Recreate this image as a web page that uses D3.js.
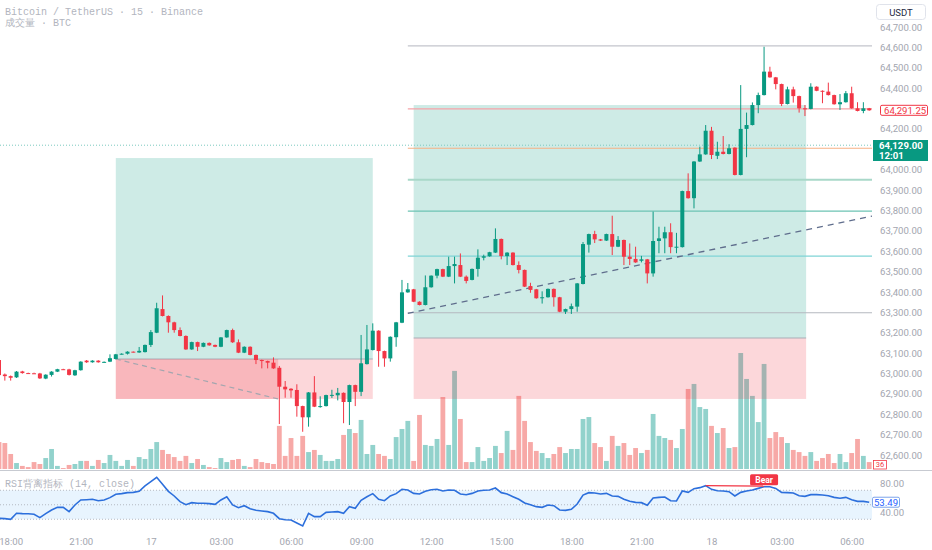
<!DOCTYPE html>
<html>
<head>
<meta charset="utf-8">
<script src="https://cdn.jsdelivr.net/npm/d3@7"></script>
<style>
  body { margin: 0; background: #fff; }
  svg text { font-family: Roboto, "Noto Sans", sans-serif; }
</style>
</head>
<body>
<div id="chart"></div>
<script>
// 15m BTCUSDT candles, 16th 17:30 -> 18th 06:45
const opens = [
  63066,62995,62987,62981,63010,63002,63001,63000,62975,62993,
  63009,63021,63020,62991,63016,63063,63055,63063,63055,63058,
  63071,63094,63097,63107,63103,63105,63140,63200,63316,63282,
  63251,63213,63184,63118,63154,63131,63150,63140,63131,63177,
  63213,63153,63102,63131,63091,63066,63061,63053,63028,62935,
  62925,62919,62840,62785,62907,62837,62840,62894,62893,62905,
  62860,62943,62910,63046,63115,63210,63110,63074,63178,63249,
  63398,63413,63352,63336,63423,63480,63512,63475,63527,63532,
  63475,63459,63513,63568,63575,63593,63660,63576,63593,63532,
  63508,63429,63413,63369,63374,63415,63374,63303,63316,63328,
  63439,63632,63684,63658,63652,63684,63622,63655,63573,63562,
  63553,63560,63491,63650,63663,63693,63620,63620,63895,63860,
  64040,64075,64191,64068,64088,64077,64108,63974,64200,64219,
  64317,64366,64481,64453,64420,64322,64394,64361,64301,64298,
  64407,64387,64383,64366,64321,64331,64375,64301,64288,64301
];
const highs = [
  63080,63000,62990,63012,63013,63004,63004,63003,62996,63011,
  63023,63023,63023,63018,63060,63066,63065,63065,63059,63094,
  63096,63099,63109,63108,63130,63142,63213,63347,63383,63285,
  63254,63226,63187,63156,63156,63152,63152,63142,63179,63215,
  63220,63167,63133,63133,63093,63068,63063,63079,63037,62963,
  62928,62947,62842,62909,62987,62888,62896,62920,62929,62907,
  62945,62945,63189,63238,63246,63212,63112,63182,63253,63459,
  63444,63415,63354,63481,63481,63514,63514,63573,63573,63589,
  63481,63515,63609,63583,63597,63712,63662,63595,63595,63550,
  63510,63445,63415,63403,63417,63417,63376,63318,63343,63444,
  63645,63686,63700,63660,63686,63774,63674,63657,63638,63622,
  63577,63562,63794,63720,63720,63737,63690,63897,63982,64042,
  64113,64219,64210,64137,64165,64125,64110,64415,64280,64330,
  64378,64603,64505,64455,64422,64407,64407,64363,64317,64424,
  64409,64389,64427,64368,64371,64386,64407,64331,64331,64303
];
const lows = [
  62988,62965,62965,62978,62999,63000,62999,62973,62972,62985,
  63007,63019,62990,62988,63014,63052,63053,63053,63054,63056,
  63069,63093,63093,63103,63101,63103,63130,63198,63280,63200,
  63200,63182,63116,63116,63110,63129,63136,63129,63129,63175,
  63150,63100,63100,63089,63046,63025,63025,63023,62752,62881,
  62881,62788,62714,62739,62835,62832,62838,62880,62868,62756,
  62747,62840,62889,63044,63113,63033,63033,63058,63131,63247,
  63396,63350,63334,63334,63421,63467,63473,63473,63442,63473,
  63442,63457,63475,63555,63573,63591,63560,63532,63530,63491,
  63424,63396,63367,63343,63372,63328,63301,63292,63292,63303,
  63437,63593,63640,63650,63650,63581,63620,63532,63532,63543,
  63545,63442,63475,63590,63590,63590,63590,63618,63858,63810,
  64038,64073,64052,64052,64075,64075,63972,63972,64061,64217,
  64277,64364,64451,64394,64312,64320,64329,64280,64263,64296,
  64385,64326,64364,64319,64293,64329,64299,64286,64277,64289
];
const closes = [
  62992,62987,62979,63009,63002,63001,63000,62976,62994,63009,
  63021,63020,62993,63016,63058,63055,63063,63055,63057,63075,
  63094,63097,63107,63105,63111,63140,63203,63320,63282,63251,
  63213,63184,63118,63154,63131,63150,63138,63131,63177,63213,
  63153,63102,63131,63091,63066,63061,63053,63025,62935,62922,
  62917,62840,62785,62907,62837,62840,62894,62895,62905,62860,
  62943,62910,63050,63118,63210,63110,63074,63180,63251,63398,
  63413,63352,63336,63423,63480,63512,63475,63527,63537,63475,
  63454,63513,63568,63575,63595,63660,63576,63593,63532,63508,
  63426,63410,63369,63374,63415,63374,63303,63316,63330,63442,
  63635,63684,63658,63652,63684,63622,63655,63573,63562,63545,
  63560,63491,63650,63663,63693,63620,63622,63895,63860,64040,
  64075,64191,64072,64088,64077,64105,63974,64200,64219,64317,
  64366,64481,64453,64420,64322,64394,64361,64301,64296,64407,
  64387,64383,64366,64321,64331,64375,64301,64288,64301,64291.25
];
// volume in BTC
const volumes = [
  140,135,78,31,16,10,36,26,57,104,16,5,21,26,42,42,16,47,31,73,
  42,16,47,16,62,52,104,140,99,78,62,42,68,31,52,21,10,5,57,36,
  47,52,16,10,52,36,31,26,224,68,161,68,172,88,99,73,42,42,52,177,
  208,187,255,78,125,78,68,52,166,208,250,42,281,125,120,156,374,125,510,260,
  36,36,114,42,57,120,83,198,99,380,250,140,94,83,57,78,114,83,104,104,
  260,270,135,114,42,172,120,135,73,109,83,99,286,172,161,151,109,208,416,442,
  322,312,224,187,213,109,114,603,468,380,244,546,161,192,166,135,99,88,68,88,
  42,57,78,31,78,36,83,156,68,36
];
// RSI (14, close)
const rsi = [
  31.3,30.8,29.9,38.2,37.7,37.5,36.8,32.2,37.7,42.8,
  46.4,46.4,40.5,49.7,56.6,57.0,57.5,55.6,56.6,59.8,
  64.4,65.3,66.7,67.1,68.5,75.9,81.8,87.8,78.2,68.5,
  62.1,54.3,50.1,52.9,52.0,52.0,51.5,50.6,56.6,61.1,
  49.7,46.0,48.7,44.6,42.3,41.4,40.5,38.2,30.8,29.4,
  29.0,24.8,20.7,38.2,33.6,33.6,39.5,40.0,40.5,38.2,
  47.4,45.1,56.1,61.1,65.3,57.5,55.6,62.1,65.3,71.3,
  70.3,65.7,64.8,68.5,70.8,71.3,69.0,70.3,69.9,64.8,
  63.9,65.7,69.0,69.9,70.3,73.1,66.7,64.8,61.1,57.5,
  52.4,50.1,47.4,46.4,49.7,48.7,42.8,42.3,43.7,51.0,
  63.4,66.7,66.2,64.8,65.7,62.1,61.6,57.5,54.7,53.3,
  52.9,49.2,59.3,60.2,60.7,55.6,55.2,69.0,67.1,72.2,
  73.6,76.3,71.3,69.4,69.0,68.0,62.1,67.1,69.0,70.3,
  72.6,74.9,74.9,72.6,67.1,66.7,66.2,62.5,61.6,63.9,
  63.9,63.4,62.5,60.2,58.9,60.2,57.0,54.7,54.7,53.49
];

// time axis
const timeTickIdx = [2, 14, 26, 38, 50, 62, 74, 86, 98, 110, 122, 134, 146];
const timeTickLabels = ['18:00','21:00','17','03:00','06:00','09:00','12:00','15:00','18:00','21:00','18','03:00','06:00'];
const priceTicks = [62600,62700,62800,62900,63000,63100,63200,63300,63400,63500,63600,
  63700,63800,63900,64000,64200,64400,64500,64600,64700];
const rsiTicks = [80, 40];
const rsiBands = [70, 50, 30];

// long position tools (bar index / price)
const boxStart = [20, 71];
const boxEnd = [64, 138.2];
const boxEntry = [63071, 63174];
const boxTarget = [64057, 64317];
const boxStop = [62875, 62875];
const boxExitIdx = 47.8;       // first box got stopped out here

// horizontal rays and trend line
const rayStartIdx = 70;
const rayPrices = [64607, 64298, 64105, 63950, 63797, 63576, 63298];
const trendIdx = [70, 150];
const trendPrice = [63295, 63775];
const lastLinePrice = 64120;

// divergence pivots
const bearIdx = [121, 131];

const W = 932, H = 550, plotW = 872;

/////////////////////////////////////////////////////////
///////////////////// Scales ////////////////////////////
/////////////////////////////////////////////////////////

const x = d3.scaleLinear().domain([0, 149]).range([-1, 869.2]);
const y = d3.scaleLinear().domain([62600, 64700]).range([455, 27]);
const yVol = d3.scaleLinear().domain([0, d3.max(volumes)]).range([469, 353]);
const yRsi = d3.scaleLinear().domain([40, 80]).range([512, 483]);

const GREEN = '#089981', RED = '#f23645';
const idx = d3.range(closes.length);
const up = i => closes[i] >= opens[i];

const svg = d3.select('#chart').append('svg')
  .attr('width', W).attr('height', H)
  .style('display', 'block');

const defs = svg.append('defs');
defs.append('clipPath').attr('id', 'clipPrice')
  .append('rect').attr('x', 0).attr('y', 0).attr('width', plotW).attr('height', 470);
defs.append('clipPath').attr('id', 'clipRsi')
  .append('rect').attr('x', 0).attr('y', 471).attr('width', plotW).attr('height', 57);

const price = svg.append('g').attr('clip-path', 'url(#clipPrice)');

// volume sits under everything else
price.append('g').selectAll('rect')
  .data(idx).enter().append('rect')
  .attr('x', i => x(i) - 2.4)
  .attr('width', 4.8)
  .attr('y', i => yVol(volumes[i]))
  .attr('height', i => yVol(0) - yVol(volumes[i]))
  .attr('fill', i => up(i) ? 'rgba(38,166,154,0.5)' : 'rgba(239,83,80,0.5)');

/////////////////////////////////////////////////////////
//////////////// Long position boxes ////////////////////
/////////////////////////////////////////////////////////

const boxes = price.append('g');
boxStart.forEach((s, j) => {
  const x0 = x(s), x1 = x(boxEnd[j]);
  boxes.append('rect')
    .attr('x', x0).attr('width', x1 - x0)
    .attr('y', y(boxTarget[j])).attr('height', y(boxEntry[j]) - y(boxTarget[j]))
    .attr('fill', 'rgba(8,153,129,0.2)');
  boxes.append('rect')
    .attr('x', x0).attr('width', x1 - x0)
    .attr('y', y(boxEntry[j])).attr('height', y(boxStop[j]) - y(boxEntry[j]))
    .attr('fill', 'rgba(242,54,69,0.2)');
  boxes.append('line')
    .attr('x1', x0).attr('x2', x1)
    .attr('y1', y(boxEntry[j])).attr('y2', y(boxEntry[j]))
    .attr('stroke', '#a9adb6').attr('stroke-width', 1);
});
// stopped-out part of the first trade
boxes.append('rect')
  .attr('x', x(boxStart[0])).attr('width', x(boxExitIdx) - x(boxStart[0]))
  .attr('y', y(boxEntry[0])).attr('height', y(boxStop[0]) - y(boxEntry[0]))
  .attr('fill', 'rgba(242,54,69,0.2)');
boxes.append('line')
  .attr('x1', x(boxStart[0])).attr('y1', y(boxEntry[0]))
  .attr('x2', x(boxExitIdx)).attr('y2', y(boxStop[0]))
  .attr('stroke', '#a3a6af').attr('stroke-width', 1.2)
  .attr('stroke-dasharray', '5,4');

/////////////////////////////////////////////////////////
////////////////// Lines & drawings /////////////////////
/////////////////////////////////////////////////////////

const rayColors = ['#c3c5cc', '#f5a3a8', '#f6b184', '#a9d8c9', '#6cc3b3', '#7fd4d6', '#b5b8bf'];
const rayWidths = [1.2, 1.2, 1.2, 2, 1.2, 1.2, 1.2];
price.append('g').selectAll('line')
  .data(rayPrices).enter().append('line')
  .attr('x1', x(rayStartIdx)).attr('x2', plotW)
  .attr('y1', d => y(d)).attr('y2', d => y(d))
  .attr('stroke', (d, i) => rayColors[i])
  .attr('stroke-width', (d, i) => rayWidths[i]);

// last price dotted line
price.append('line')
  .attr('x1', 0).attr('x2', plotW)
  .attr('y1', y(lastLinePrice)).attr('y2', y(lastLinePrice))
  .attr('stroke', '#7cc9bf').attr('stroke-width', 1)
  .attr('stroke-dasharray', '1,2');

price.append('line')
  .attr('x1', x(trendIdx[0])).attr('y1', y(trendPrice[0]))
  .attr('x2', x(trendIdx[1])).attr('y2', y(trendPrice[1]))
  .attr('stroke', '#5f6d8c').attr('stroke-width', 1.3)
  .attr('stroke-dasharray', '6,5');

/////////////////////////////////////////////////////////
/////////////////////// Candles /////////////////////////
/////////////////////////////////////////////////////////

const candles = price.append('g').selectAll('g')
  .data(idx).enter().append('g');

candles.append('line')
  .attr('x1', i => x(i)).attr('x2', i => x(i))
  .attr('y1', i => y(highs[i])).attr('y2', i => y(lows[i]))
  .attr('stroke', i => up(i) ? GREEN : RED)
  .attr('stroke-width', 1);

candles.append('rect')
  .attr('x', i => x(i) - 2)
  .attr('width', 4)
  .attr('y', i => y(Math.max(opens[i], closes[i])))
  .attr('height', i => Math.max(1, Math.abs(y(opens[i]) - y(closes[i]))))
  .attr('fill', i => up(i) ? GREEN : RED);

/////////////////////////////////////////////////////////
//////////////////////// Header /////////////////////////
/////////////////////////////////////////////////////////

const mono = '"Liberation Mono", "DejaVu Sans Mono", monospace';
svg.append('text').attr('x', 5).attr('y', 15)
  .style('font-family', mono).style('font-size', '10px').attr('fill', '#b2b5be')
  .text('Bitcoin / TetherUS · 15 · Binance');
svg.append('text').attr('x', 5).attr('y', 26)
  .style('font-family', mono).style('font-size', '10px').attr('fill', '#b2b5be')
  .text('成交量 · BTC');

/////////////////////////////////////////////////////////
/////////////////////// RSI pane ////////////////////////
/////////////////////////////////////////////////////////

svg.append('line')
  .attr('x1', 0).attr('x2', W).attr('y1', 470.5).attr('y2', 470.5)
  .attr('stroke', '#c7cad1').attr('stroke-width', 1);

const rsiG = svg.append('g').attr('clip-path', 'url(#clipRsi)');
rsiG.append('rect')
  .attr('x', 0).attr('width', plotW)
  .attr('y', yRsi(rsiBands[0])).attr('height', yRsi(rsiBands[2]) - yRsi(rsiBands[0]))
  .attr('fill', 'rgba(33,150,243,0.1)');
rsiG.selectAll('.band')
  .data(rsiBands).enter().append('line')
  .attr('x1', 0).attr('x2', plotW)
  .attr('y1', d => yRsi(d)).attr('y2', d => yRsi(d))
  .attr('stroke', '#a6aab3').attr('stroke-width', 0.8)
  .attr('stroke-dasharray', '1,2');

rsiG.append('path')
  .datum(idx)
  .attr('d', d3.line().x(i => x(i)).y(i => yRsi(rsi[i])))
  .attr('fill', 'none')
  .attr('stroke', '#2c6fdc')
  .attr('stroke-width', 1.6);

// bearish divergence
svg.append('line')
  .attr('x1', x(bearIdx[0])).attr('y1', yRsi(rsi[bearIdx[0]]))
  .attr('x2', x(bearIdx[1])).attr('y2', yRsi(rsi[bearIdx[0]]) + 0.5)
  .attr('stroke', RED).attr('stroke-width', 1.3);
const bear = svg.append('g')
  .attr('transform', `translate(${x(bearIdx[1])},${yRsi(rsi[bearIdx[0]]) - 5.5})`);
bear.append('rect').attr('x', -14).attr('y', -6).attr('width', 28).attr('height', 11)
  .attr('rx', 1.5).attr('fill', RED);
bear.append('text').attr('y', 3).attr('text-anchor', 'middle')
  .style('font-size', '8.5px').style('font-weight', 'bold').attr('fill', '#fff').text('Bear');

svg.append('text').attr('x', 5).attr('y', 487)
  .style('font-family', mono).style('font-size', '10px').attr('fill', '#b2b5be')
  .text('RSI背离指标 (14, close)');

/////////////////////////////////////////////////////////
///////////////////////// Axes //////////////////////////
/////////////////////////////////////////////////////////

const priceAxis = svg.append('g')
  .attr('transform', `translate(${plotW},0)`)
  .call(d3.axisRight(y).tickValues(priceTicks).tickFormat(d3.format(',.2f')).tickSize(0).tickPadding(8));
const rsiAxis = svg.append('g')
  .attr('transform', `translate(${plotW},0)`)
  .call(d3.axisRight(yRsi).tickValues(rsiTicks).tickFormat(d3.format('.2f')).tickSize(0).tickPadding(8));
const timeAxis = svg.append('g')
  .attr('transform', 'translate(0,534)')
  .call(d3.axisBottom(x).tickValues(timeTickIdx).tickFormat((d, i) => timeTickLabels[i]).tickSize(0).tickPadding(4));

[priceAxis, rsiAxis, timeAxis].forEach(a => {
  a.select('.domain').remove();
  a.selectAll('text')
    .style('font-family', 'Roboto, "Noto Sans", sans-serif')
    .style('font-size', '9.6px')
    .attr('fill', '#a3a6af');
});

// USDT unit button
svg.append('rect').attr('x', 876.5).attr('y', 4.5).attr('width', 49).attr('height', 15)
  .attr('rx', 3).attr('fill', '#fff').attr('stroke', '#e0e3eb');
svg.append('text').attr('x', 901).attr('y', 15.5).attr('text-anchor', 'middle')
  .style('font-size', '9.5px').attr('fill', '#1e2a44').text('USDT');

// price labels on the axis
const lastClose = closes[closes.length - 1];
const lg = svg.append('g');
lg.append('rect').attr('x', 880.5).attr('y', y(lastClose) - 5).attr('width', 47).attr('height', 10)
  .attr('rx', 1.5).attr('fill', '#fff').attr('stroke', RED).attr('stroke-width', 1);
lg.append('text')
  .attr('x', 884).attr('y', y(lastClose) + 3.5)
  .style('font-size', '9.6px').attr('fill', RED)
  .text(d3.format(',.2f')(lastClose));

const gl = svg.append('g');
gl.append('rect').attr('x', 873).attr('y', 140).attr('width', 55).attr('height', 21).attr('fill', GREEN);
gl.append('text').attr('x', 879).attr('y', 149)
  .style('font-size', '9.6px').style('font-weight', 'bold').attr('fill', '#fff').text('64,129.00');
gl.append('text').attr('x', 879).attr('y', 158.5)
  .style('font-size', '9.6px').style('font-weight', 'bold').attr('fill', '#fff').text('12:01');

// last volume tag, sitting just under the lowest price label
const lastVol = volumes[volumes.length - 1];
const vg = svg.append('g');
vg.append('rect').attr('x', 873.5).attr('y', 460.5).attr('width', 13).attr('height', 8.5)
  .attr('fill', '#fff').attr('stroke', RED).attr('stroke-width', 0.8);
vg.append('text').attr('x', 880).attr('y', 467.3).attr('text-anchor', 'middle')
  .style('font-size', '7.5px').attr('fill', RED).text(lastVol);

const lastRsi = rsi[rsi.length - 1];
const rg = svg.append('g');
rg.append('rect').attr('x', 872.5).attr('y', yRsi(lastRsi) - 5).attr('width', 27).attr('height', 10)
  .attr('rx', 1.5).attr('fill', '#fff').attr('stroke', '#6e98e8').attr('stroke-width', 0.9);
rg.append('text').attr('x', 886).attr('y', yRsi(lastRsi) + 3.5).attr('text-anchor', 'middle')
  .style('font-size', '9.6px').attr('fill', '#2962ff').text(d3.format('.2f')(lastRsi));
</script>
</body>
</html>
